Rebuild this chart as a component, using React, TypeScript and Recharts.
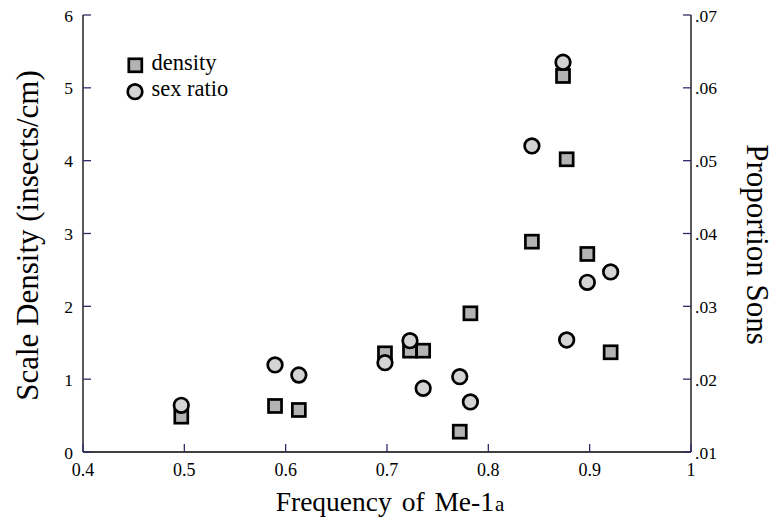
import React from 'react';
import { ScatterChart, Scatter, XAxis, YAxis, Legend } from 'recharts';

const frequency = [0.497, 0.5895, 0.613, 0.698, 0.7227, 0.7357, 0.7718, 0.7823, 0.843, 0.8737, 0.8773, 0.8977, 0.9207];
const density = [0.485, 0.632, 0.577, 1.355, 1.391, 1.391, 0.279, 1.904, 2.888, 5.163, 4.019, 2.719, 1.369];
const sexRatio = [0.01641, 0.02195, 0.02057, 0.02226, 0.02528, 0.01875, 0.02034, 0.01687, 0.05202, 0.06351, 0.02538, 0.0333, 0.03472];

const xTicks = [0.4, 0.5, 0.6, 0.7, 0.8, 0.9, 1.0];
const xTickLabels = ['0.4', '0.5', '0.6', '0.7', '0.8', '0.9', '1'];
const leftTicks = [0, 1, 2, 3, 4, 5, 6];
const leftTickLabels = ['0', '1', '2', '3', '4', '5', '6'];
const rightTicks = [0.01, 0.02, 0.03, 0.04, 0.05, 0.06, 0.07];
const rightTickLabels = ['.01', '.02', '.03', '.04', '.05', '.06', '.07'];

const densityData = frequency.map((x, i) => ({ x, y: density[i] }));
const sexRatioData = frequency.map((x, i) => ({ x, y: sexRatio[i] }));

const FONT = '"Liberation Serif", "Times New Roman", serif';
const TICK_COLOR = '#2e2e6e';
const SQUARE_FILL = '#b3b3b3';
const CIRCLE_FILL = '#d4d4d4';

const XTick = (props: any) => {
  const { x, y, index } = props;
  return (
    <g>
      <line x1={x} x2={x} y1={y} y2={y - 8} stroke={TICK_COLOR} strokeWidth={1.3} />
      <text x={x} y={y + 24} textAnchor="middle" fontFamily={FONT} fontSize={18} fill="#000">
        {xTickLabels[index]}
      </text>
    </g>
  );
};

const LeftTick = (props: any) => {
  const { x, y, index } = props;
  return (
    <g>
      <line x1={x} x2={x + 8} y1={y} y2={y} stroke={TICK_COLOR} strokeWidth={1.3} />
      <text x={x - 10} y={y + 6.5} textAnchor="end" fontFamily={FONT} fontSize={17.5} fill="#000">
        {leftTickLabels[index]}
      </text>
    </g>
  );
};

const RightTick = (props: any) => {
  const { x, y, index } = props;
  return (
    <g>
      <line x1={x} x2={x - 8} y1={y} y2={y} stroke={TICK_COLOR} strokeWidth={1.3} />
      <text x={x + 4} y={y + 6.5} textAnchor="start" fontFamily={FONT} fontSize={17.5} fill="#000">
        {rightTickLabels[index]}
      </text>
    </g>
  );
};

const SquareShape = (props: any) => {
  const { cx, cy } = props;
  return <rect x={cx - 6.5} y={cy - 6.5} width={13} height={13} fill={SQUARE_FILL} stroke="#000" strokeWidth={2.7} />;
};

const CircleShape = (props: any) => {
  const { cx, cy } = props;
  return <circle cx={cx} cy={cy} r={7.3} fill={CIRCLE_FILL} stroke="#000" strokeWidth={2.7} />;
};

const LegendContent = () => (
  <svg width={130} height={60} style={{ display: 'block' }}>
    <rect x={15.3 - 6.5} y={15.3 - 6.5} width={13} height={13} fill={SQUARE_FILL} stroke="#000" strokeWidth={2.7} />
    <text x={31.5} y={19.5} fontFamily={FONT} fontSize={22.5} fill="#000">density</text>
    <circle cx={15} cy={41.7} r={7.3} fill={CIRCLE_FILL} stroke="#000" strokeWidth={2.7} />
    <text x={31.5} y={45.5} fontFamily={FONT} fontSize={22.5} fill="#000">sex ratio</text>
  </svg>
);

const XLabel = (props: any) => {
  const { viewBox } = props;
  const cx = viewBox.x + viewBox.width / 2 + 3;
  return (
    <text x={cx} y={viewBox.y + 59} textAnchor="middle" fontFamily={FONT} fontSize={27.5} wordSpacing={3} fill="#000">
      Frequency of Me-1<tspan fontSize={21} dx={1}>a</tspan>
    </text>
  );
};

const LeftLabel = (props: any) => {
  const { viewBox } = props;
  const x = 38;
  const y = viewBox.y + viewBox.height / 2 + 2;
  return (
    <text x={x} y={y} transform={`rotate(-90 ${x} ${y})`} textAnchor="middle" fontFamily={FONT} fontSize={31} fill="#000">
      Scale Density (insects/cm)
    </text>
  );
};

const RightLabel = (props: any) => {
  const { viewBox } = props;
  const x = 747;
  const y = viewBox.y + viewBox.height / 2 + 11;
  return (
    <text x={x} y={y} transform={`rotate(90 ${x} ${y})`} textAnchor="middle" fontFamily={FONT} fontSize={31} fill="#000">
      Proportion Sons
    </text>
  );
};

export default function App() {
  return (
    <div style={{ position: 'absolute', left: 0, top: 0, width: 775, height: 521, background: '#fff' }}>
      <ScatterChart width={775} height={521} margin={{ top: 15, right: 0, bottom: 0, left: 0 }}>
        <XAxis
          xAxisId="bottom"
          type="number"
          dataKey="x"
          domain={[0.4, 1.0]}
          ticks={xTicks}
          interval={0}
          allowDataOverflow
          height={69}
          tickSize={0}
          tickMargin={0}
          tickLine={false}
          axisLine={{ stroke: '#000', strokeWidth: 1.3 }}
          tick={<XTick />}
          label={<XLabel />}
        />
        <XAxis
          xAxisId="top"
          orientation="top"
          type="number"
          domain={[0.4, 1.0]}
          height={0}
          tick={false}
          tickLine={false}
          axisLine={{ stroke: '#000', strokeWidth: 1.3 }}
        />
        <YAxis
          yAxisId="left"
          type="number"
          dataKey="y"
          domain={[0, 6]}
          ticks={leftTicks}
          interval={0}
          allowDataOverflow
          width={83}
          tickSize={0}
          tickMargin={0}
          tickLine={false}
          axisLine={{ stroke: '#000', strokeWidth: 1.3 }}
          tick={<LeftTick />}
          label={<LeftLabel />}
        />
        <YAxis
          yAxisId="right"
          orientation="right"
          type="number"
          dataKey="y"
          domain={[0.01, 0.07]}
          ticks={rightTicks}
          interval={0}
          allowDataOverflow
          width={84}
          tickSize={0}
          tickMargin={0}
          tickLine={false}
          axisLine={{ stroke: '#000', strokeWidth: 1.3 }}
          tick={<RightTick />}
          label={<RightLabel />}
        />
        <Legend
          layout="vertical"
          align="center"
          verticalAlign="middle"
          content={() => <LegendContent />}
          wrapperStyle={{ position: 'absolute', left: 120, top: 50, width: 130, height: 60 }}
        />
        <Scatter
          name="density"
          data={densityData}
          xAxisId="bottom"
          yAxisId="left"
          shape={<SquareShape />}
          isAnimationActive={false}
        />
        <Scatter
          name="sex ratio"
          data={sexRatioData}
          xAxisId="bottom"
          yAxisId="right"
          shape={<CircleShape />}
          isAnimationActive={false}
        />
      </ScatterChart>
    </div>
  );
}
